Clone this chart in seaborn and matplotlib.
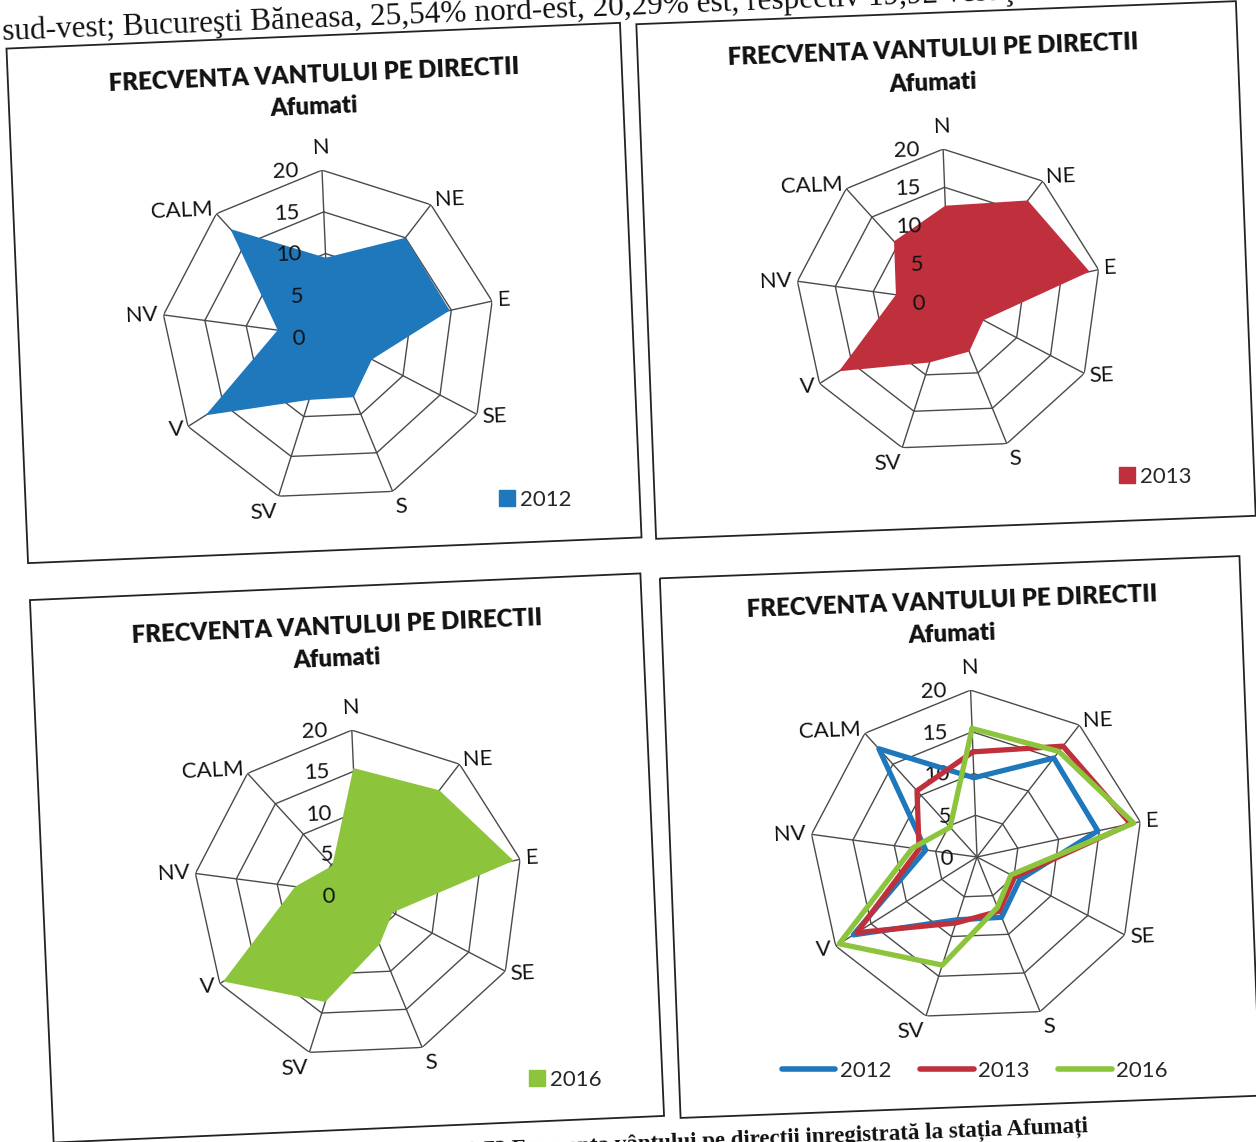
import numpy as np
import pandas as pd
import seaborn as sns
import matplotlib.pyplot as plt
from matplotlib.patches import Patch, Polygon
from matplotlib.lines import Line2D

# 1. DATA
# -------
directions = ["N", "NE", "E", "SE", "S", "SV", "V", "NV", "CALM"]
freq_2012 = [9.5, 15.0, 14.8, 5.8, 7.8, 7.9, 17.5, 6.2, 17.5]
freq_2013 = [12.6, 16.8, 18.8, 5.1, 7.0, 8.3, 17.0, 7.0, 10.7]
freq_2016 = [15.4, 16.0, 19.2, 4.6, 6.5, 13.6, 19.5, 7.8, 4.8]
years = ["2012", "2013", "2016"]
ring_ticks = [0, 5, 10, 15, 20]

colors = {"2012": "#1f77bc", "2013": "#c0303c", "2016": "#8cc43c"}
series = {"2012": freq_2012, "2013": freq_2013, "2016": freq_2016}

sns.set_style("white")
plt.rcParams['font.family'] = ['Lato', 'DejaVu Sans']

W, H = 1256, 1142
fig = plt.figure(figsize=(W / 100, H / 100), dpi=100)


def fx(x):
    return x / W


def fy(y):
    return 1 - y / H


theta = np.linspace(0, 2 * np.pi, len(directions), endpoint=False)
theta_closed = np.append(theta, 2 * np.pi)


def draw_box(cx, cy, w, h, rot):
    a = np.deg2rad(rot)
    pts = []
    for sx, sy in [(-1, -1), (1, -1), (1, 1), (-1, 1)]:
        dx, dy = sx * w / 2, sy * h / 2
        # rotate counterclockwise on screen (pixel y points down)
        x = cx + dx * np.cos(a) + dy * np.sin(a)
        y = cy - dx * np.sin(a) + dy * np.cos(a)
        pts.append((fx(x), fy(y)))
    fig.add_artist(Polygon(pts, closed=True, fill=False, edgecolor="#222222",
                           lw=1.3, transform=fig.transFigure))


def radar_axes(cx, cy, r, rot):
    ax = fig.add_axes([fx(cx - r), fy(cy + r), 2 * r / W, 2 * r / H], projection="polar")
    ax.set_theta_direction(-1)
    ax.set_theta_offset(np.pi / 2 + np.deg2rad(rot))
    ax.set_ylim(0, 20)
    ax.grid(False)
    ax.set_xticks([])
    ax.set_yticks([])
    ax.spines['polar'].set_visible(False)
    ax.patch.set_alpha(0)
    # polygon grid
    for lvl in ring_ticks[1:]:
        ax.plot(theta_closed, [lvl] * len(theta_closed), color="#4a4a4a", lw=1.0, zorder=1)
    for th in theta:
        ax.plot([th, th], [0, 20], color="#4a4a4a", lw=1.0, zorder=1)
    # category labels
    for th, lab in zip(theta, directions):
        a = th - np.deg2rad(rot)
        sx, sy = np.sin(a), np.cos(a)
        ha = "left" if sx > 0.1 else ("right" if sx < -0.1 else "center")
        va = "bottom" if sy > 0.9 else ("top" if sy < -0.9 else "center")
        off = 9 if lab == "N" else 4
        ax.annotate(lab, xy=(th, 20), xytext=(off * sx, off * sy), textcoords="offset points",
                    ha=ha, va=va, fontsize=16, color="#111111", rotation=rot,
                    rotation_mode="anchor", annotation_clip=False)
    # value labels along N axis
    for v in ring_ticks:
        ax.annotate(str(v), xy=(0, v), xytext=(-17, -1), textcoords="offset points",
                    ha="right", va="center", fontsize=16, color="#111111",
                    rotation=rot, annotation_clip=False)
    return ax


def titles(cx, y1, y2, rot):
    fig.text(fx(cx), fy(y1), "FRECVENTA VANTULUI PE DIRECTII", ha="center", va="center",
             fontsize=17.3, fontweight="heavy", rotation=rot, color="#111111")
    fig.text(fx(cx), fy(y2), "Afumati", ha="center", va="center",
             fontsize=17.3, fontweight="heavy", rotation=rot, color="#111111")


# 2. SURROUNDING DOCUMENT TEXT
# ----------------------------
fig.text(fx(3), fy(40), "sud-vest; Bucureşti Băneasa, 25,54% nord-est, 20,29% est, respectiv 19,92 vest şi",
         family=["Liberation Serif"], fontsize=22.5, rotation=2.3, rotation_mode="anchor",
         ha="left", va="baseline", color="#111111")
fig.text(fx(1088), fy(1132), "Figura 2.73 Frecventa vântului pe directii inregistrată la stația Afumați",
         family=["Liberation Serif"], fontsize=16.5, fontweight="bold", rotation=2.3,
         rotation_mode="anchor", ha="right", va="baseline", color="#111111")

# 3. SINGLE-YEAR PANELS
# ---------------------
panels = [
    ("2012", (324, 293, 614, 515, 2.4), (329, 337, 167), (314, 75, 107), (488, 500)),
    ("2013", (946, 270, 600, 515, 2.2), (949, 302, 153), (933, 50, 83), (1108, 477)),
    ("2016", (347, 858, 611, 543, 2.5), (359, 895, 165), (337, 627, 659), (518, 1080)),
]
for year, box, rad, tit, leg in panels:
    draw_box(*box)
    ax = radar_axes(rad[0], rad[1], rad[2], box[4])
    vals = series[year]
    ax.fill(theta_closed, vals + vals[:1], color=colors[year], lw=0, zorder=2)
    titles(tit[0], tit[1], tit[2], box[4])
    fig.legend(handles=[Patch(color=colors[year], label=year)], loc="center left",
               bbox_to_anchor=(fx(leg[0]), fy(leg[1])), frameon=False, fontsize=16,
               handlelength=0.7, handleheight=0.7, handletextpad=0.25, borderpad=0)

# 4. COMBINED PANEL
# -----------------
draw_box(960, 837, 580, 540, 2.2)
ax = radar_axes(977, 857, 167, 2.2)
df = pd.DataFrame({
    "theta": np.tile(theta_closed, len(years)),
    "freq": np.concatenate([series[y] + series[y][:1] for y in years]),
    "year": np.repeat(years, len(theta_closed)),
})
sns.lineplot(data=df, x="theta", y="freq", hue="year", palette=colors, sort=False,
             estimator=None, lw=3.8, legend=False, ax=ax, zorder=3)
ax.set_xlabel("")
ax.set_ylabel("")
ax.set_ylim(0, 20)
titles(952, 602, 634, 2.2)
fig.legend(handles=[Line2D([], [], color=colors[y], lw=4, solid_capstyle="round", label=y) for y in years],
           loc="center", bbox_to_anchor=(fx(975), fy(1071)), ncol=3, frameon=False, fontsize=16,
           handlelength=2.4, handletextpad=0.2, columnspacing=1.3)

plt.savefig("out.png", dpi=100)
